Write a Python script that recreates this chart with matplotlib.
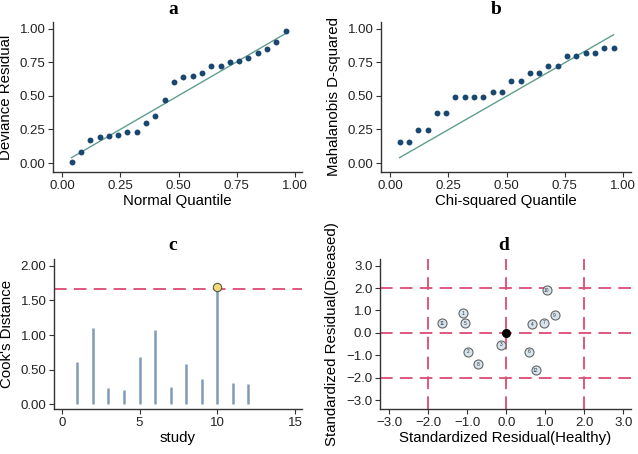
import matplotlib.pyplot as plt
import numpy as np

plt.rcParams['font.family'] = ['Liberation Sans', 'DejaVu Sans']

# panel a: deviance residual vs normal quantile
quant_a = [0.04, 0.08, 0.12, 0.16, 0.20, 0.24, 0.28, 0.32, 0.36, 0.40, 0.44, 0.48,
           0.52, 0.56, 0.60, 0.64, 0.68, 0.72, 0.76, 0.80, 0.84, 0.88, 0.92, 0.96]
dev_resid = [0.01, 0.08, 0.17, 0.19, 0.20, 0.21, 0.23, 0.23, 0.30, 0.35, 0.47, 0.60,
             0.64, 0.65, 0.67, 0.72, 0.72, 0.75, 0.76, 0.78, 0.82, 0.85, 0.90, 0.985]

# panel b: mahalanobis vs chi-squared quantile
quant_b = quant_a
maha_d2 = [0.155, 0.155, 0.245, 0.245, 0.37, 0.37, 0.49, 0.49, 0.495, 0.495, 0.53, 0.53,
           0.61, 0.61, 0.67, 0.67, 0.725, 0.725, 0.795, 0.795, 0.82, 0.82, 0.86, 0.86]

# panel c: cook's distance
study = [1, 2, 3, 4, 5, 6, 7, 8, 9, 10, 11, 12]
cooks_d = [0.61, 1.10, 0.24, 0.20, 0.68, 1.07, 0.25, 0.58, 0.37, 1.70, 0.30, 0.29]
cooks_cut = 1.67

# panel d: standardized residuals
resid_healthy = [-1.10, -0.99, -0.14, 0.67, -1.05, 0.58, 0.98, -0.73, 1.24, 1.04, -1.64, 0.75]
resid_diseased = [0.87, -0.85, -0.52, 0.39, 0.42, -0.85, 0.46, -1.41, 0.79, 1.90, 0.42, -1.66]
point_labels = [str(i) for i in study]

navy = '#1a476f'
teal = '#5f9e8f'
red = '#dc4a72'
bar_col = '#7f9bb7'

fig = plt.figure(figsize=(6.38, 4.54), dpi=100)
W, H = 638, 454


def make_ax(l, r, t, b):
    return fig.add_axes([l / W, (H - b) / H, (r - l) / W, (b - t) / H])


def style(ax):
    for s in ['top', 'right']:
        ax.spines[s].set_visible(False)
    for s in ['left', 'bottom']:
        ax.spines[s].set_color('#333333')
        ax.spines[s].set_linewidth(1.0)
    ax.tick_params(labelsize=9.5, length=3.5, color='#333333', labelcolor='#222222', pad=2)


ax_a = make_ax(53, 302, 22, 172)
ax_b = make_ax(381, 631, 22, 172)
ax_c = make_ax(54, 302, 259, 409)
ax_d = make_ax(380, 631, 259, 409)

lab_fs = 10.8

# a
ax_a.plot([0.04, 0.96], [0.04, 0.965], color=teal, lw=1.0)
ax_a.scatter(quant_a, dev_resid, s=18, color=navy, zorder=3, linewidths=0)
ax_a.set_xlim(-0.04, 1.03)
ax_a.set_ylim(-0.067, 1.05)
ax_a.set_xticks([0, 0.25, 0.5, 0.75, 1.0])
ax_a.set_yticks([0, 0.25, 0.5, 0.75, 1.0])
ax_a.xaxis.set_major_formatter('{x:.2f}')
ax_a.yaxis.set_major_formatter('{x:.2f}')
ax_a.set_xlabel('Normal Quantile', fontsize=lab_fs, labelpad=2)
ax_a.set_ylabel('Deviance Residual', fontsize=lab_fs, labelpad=5)
style(ax_a)

# b
ax_b.plot([0.04, 0.96], [0.04, 0.955], color=teal, lw=1.0)
ax_b.scatter(quant_b, maha_d2, s=18, color=navy, zorder=3, linewidths=0)
ax_b.set_xlim(-0.04, 1.035)
ax_b.set_ylim(-0.067, 1.05)
ax_b.set_xticks([0, 0.25, 0.5, 0.75, 1.0])
ax_b.set_yticks([0, 0.25, 0.5, 0.75, 1.0])
ax_b.xaxis.set_major_formatter('{x:.2f}')
ax_b.yaxis.set_major_formatter('{x:.2f}')
ax_b.set_xlabel('Chi-squared Quantile', fontsize=lab_fs, labelpad=2)
ax_b.set_ylabel('Mahalanobis D-squared', fontsize=lab_fs, labelpad=5)
style(ax_b)

# c
ax_c.axhline(cooks_cut, color=red, lw=1.3, dashes=(7, 4))
ax_c.vlines(study, 0, cooks_d, color=bar_col, lw=1.8)
imax = int(np.argmax(cooks_d))
ax_c.plot(study[imax], cooks_d[imax], 'o', ms=6, mfc='#f2dc6e', mec='#555555', mew=0.8, zorder=4)
ax_c.set_xlim(-0.5, 15.45)
ax_c.set_ylim(-0.07, 2.1)
ax_c.set_xticks([0, 5, 10, 15])
ax_c.set_yticks([0, 0.5, 1.0, 1.5, 2.0])
ax_c.yaxis.set_major_formatter('{x:.2f}')
ax_c.set_xlabel('study', fontsize=lab_fs, labelpad=2)
ax_c.set_ylabel("Cook's Distance", fontsize=lab_fs, labelpad=5)
style(ax_c)

# d
for v in [-2, 0, 2]:
    ax_d.axvline(v, color=red, lw=1.3, dashes=(7, 4))
    ax_d.axhline(v, color=red, lw=1.3, dashes=(7, 4))
ax_d.plot(resid_healthy, resid_diseased, 'o', ms=6.5, mfc='#d6e4ee', mec='#666666', mew=0.8, ls='none', zorder=4)
for xh, yd, lab in zip(resid_healthy, resid_diseased, point_labels):
    ax_d.text(xh, yd, lab, fontsize=3.5, ha='center', va='center', color='#333333', zorder=5)
ax_d.plot(0, 0, 'o', ms=5.5, color='black', zorder=5)
ax_d.set_xlim(-3.24, 3.2)
ax_d.set_ylim(-3.4, 3.3)
ax_d.set_xticks([-3, -2, -1, 0, 1, 2, 3])
ax_d.set_yticks([-3, -2, -1, 0, 1, 2, 3])
ax_d.xaxis.set_major_formatter('{x:.1f}')
ax_d.yaxis.set_major_formatter('{x:.1f}')
ax_d.set_xlabel('Standardized Residual(Healthy)', fontsize=lab_fs, labelpad=2)
ax_d.set_ylabel('Standardized Residual(Diseased)', fontsize=lab_fs, labelpad=5)
style(ax_d)

# panel letters
for lab, px, py in [('a', 173, 10), ('b', 496, 10), ('c', 173, 245), ('d', 504, 245)]:
    fig.text(px / W, 1 - py / H, lab, fontsize=14, fontweight='bold',
             family='Liberation Serif', ha='center', va='center')

fig.savefig('out.png', dpi=100)
